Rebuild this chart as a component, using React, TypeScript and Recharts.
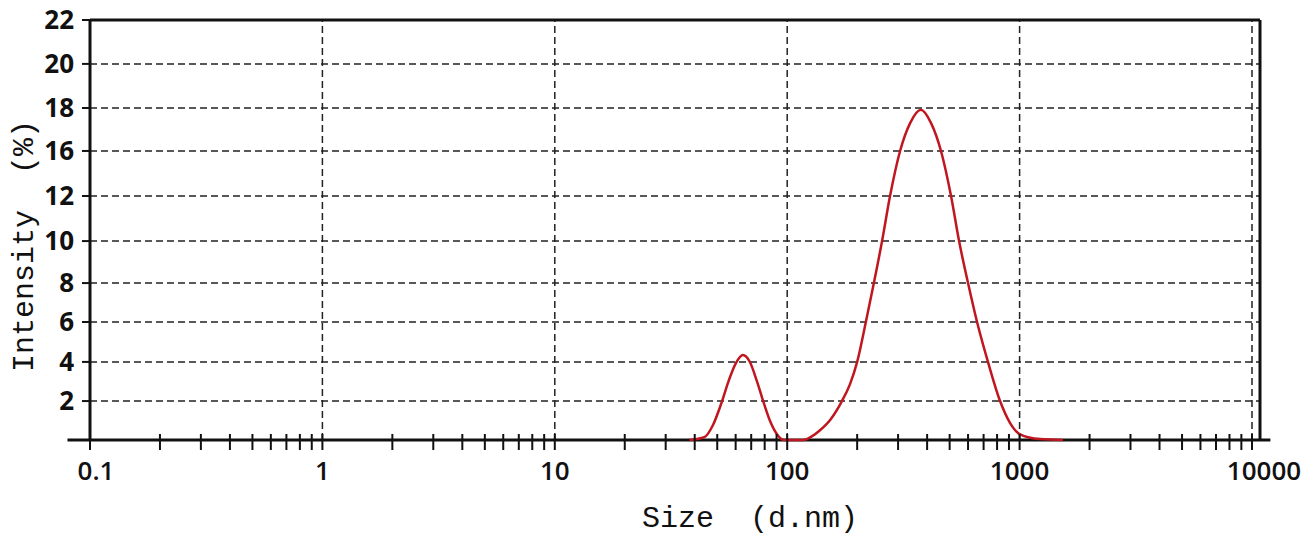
import React from 'react';
import { LineChart, Line, XAxis, YAxis, CartesianGrid, ReferenceLine } from 'recharts';

// particle size (d.nm) and intensity (%)
const sizes = [38, 44, 48, 52, 56, 60, 64.5, 69, 74, 79, 85, 91, 97, 117, 128, 138, 153, 172, 186, 200, 218, 236, 256, 277, 306, 338, 376, 416, 459, 507, 549, 600, 656, 731, 824, 909, 1004, 1224, 1537];
const intensity = [0, 0.15, 0.8, 1.9, 3.1, 4.0, 4.45, 4.1, 3.1, 2.0, 0.9, 0.25, 0, 0, 0.2, 0.5, 1.05, 2.04, 2.9, 4.09, 6.18, 8.22, 10.42, 12.78, 15.14, 16.6, 17.3, 16.6, 15.14, 12.78, 10.42, 8.22, 6.18, 4.09, 2.04, 0.9, 0.3, 0.05, 0];

// y gridlines in the original are not evenly spaced, so keep their positions and labels apart
const yTickPos = [2.04, 4.09, 6.18, 8.22, 10.42, 12.78, 15.14, 17.39, 19.7, 22];
const yTickLabels = ['2', '4', '6', '8', '10', '12', '16', '18', '20', '22'];

const decades = [0.1, 1, 10, 100, 1000, 10000];
const decadeLabels = ['0.1', '1', '10', '100', '1000', '10000'];
const minorSteps = [2, 3, 4, 5, 6, 7, 8, 9];

const xMax = 10825;

const data = sizes.map((s, i) => ({ size: s, intensity: intensity[i] }));

const xTicks: number[] = [];
decades.forEach((d, i) => {
    xTicks.push(d);
    if (i < decades.length - 1) minorSteps.forEach((k) => xTicks.push(d * k));
});

const XTick = (props: any) => {
    const { x, y, payload } = props;
    const idx = decades.indexOf(payload.value);
    // end labels sit a little to the right in the original
    const dx = idx === 0 ? 6 : idx === decades.length - 1 ? 12 : 0;
    return (
        <g>
            <line x1={x} x2={x} y1={y - 6} y2={y + 10} stroke="#111" strokeWidth={2} />
            {idx >= 0 && (
                <text x={x + dx} y={y + 40} textAnchor="middle" fontFamily="Open Sans" fontSize={26} fontWeight={600} fill="#111">
                    {decadeLabels[idx]}
                </text>
            )}
        </g>
    );
};

export default () => {
    return (
        <div style={{ position: 'absolute', left: 0, top: 0, width: 1311, height: 537, background: '#fff' }}>
            <LineChart width={1311} height={537} data={data} margin={{ top: 20, right: 51, bottom: 37, left: 30 }}>
                <CartesianGrid vertical={false} stroke="#222" strokeWidth={1.5} strokeDasharray="7 4" />
                <XAxis
                    dataKey="size"
                    type="number"
                    scale="log"
                    domain={[0.1, xMax]}
                    allowDataOverflow
                    ticks={xTicks}
                    interval={0}
                    tick={<XTick />}
                    axisLine={false}
                    tickLine={false}
                    tickSize={0}
                    tickMargin={0}
                    height={60}
                    label={{
                        content: () => (
                            <text x={750} y={527} textAnchor="middle" fontFamily="Liberation Mono" fontSize={30} fill="#111" style={{ whiteSpace: 'pre' }}>
                                Size  (d.nm)
                            </text>
                        ),
                    }}
                />
                <YAxis
                    type="number"
                    domain={[0, 22]}
                    ticks={yTickPos}
                    interval={0}
                    tickFormatter={(v: number) => yTickLabels[yTickPos.indexOf(v)]}
                    axisLine={{ stroke: '#111', strokeWidth: 3 }}
                    tickLine={{ stroke: '#111', strokeWidth: 2 }}
                    tickSize={8}
                    tickMargin={8}
                    tick={{ fontFamily: 'Open Sans', fontSize: 26, fontWeight: 700, fill: '#111' }}
                    width={60}
                    label={{
                        content: () => (
                            <text x={33} y={246} transform="rotate(-90 33 246)" textAnchor="middle" fontFamily="Liberation Mono" fontSize={30} fill="#111" style={{ whiteSpace: 'pre' }}>
                                Intensity  (%)
                            </text>
                        ),
                    }}
                />
                {decades.slice(1).map((d) => (
                    <ReferenceLine key={d} x={d} stroke="#222" strokeWidth={1.5} strokeDasharray="7 4" />
                ))}
                <ReferenceLine y={22} stroke="#111" strokeWidth={3} />
                <ReferenceLine x={xMax} stroke="#111" strokeWidth={3} />
                <ReferenceLine
                    segment={[{ x: 0.08, y: 0 }, { x: 12000, y: 0 }]}
                    stroke="#111"
                    strokeWidth={3}
                    ifOverflow="visible"
                />
                <Line
                    type="monotone"
                    dataKey="intensity"
                    stroke="#c0161f"
                    strokeWidth={2.5}
                    dot={false}
                    isAnimationActive={false}
                />
            </LineChart>
        </div>
    );
};
